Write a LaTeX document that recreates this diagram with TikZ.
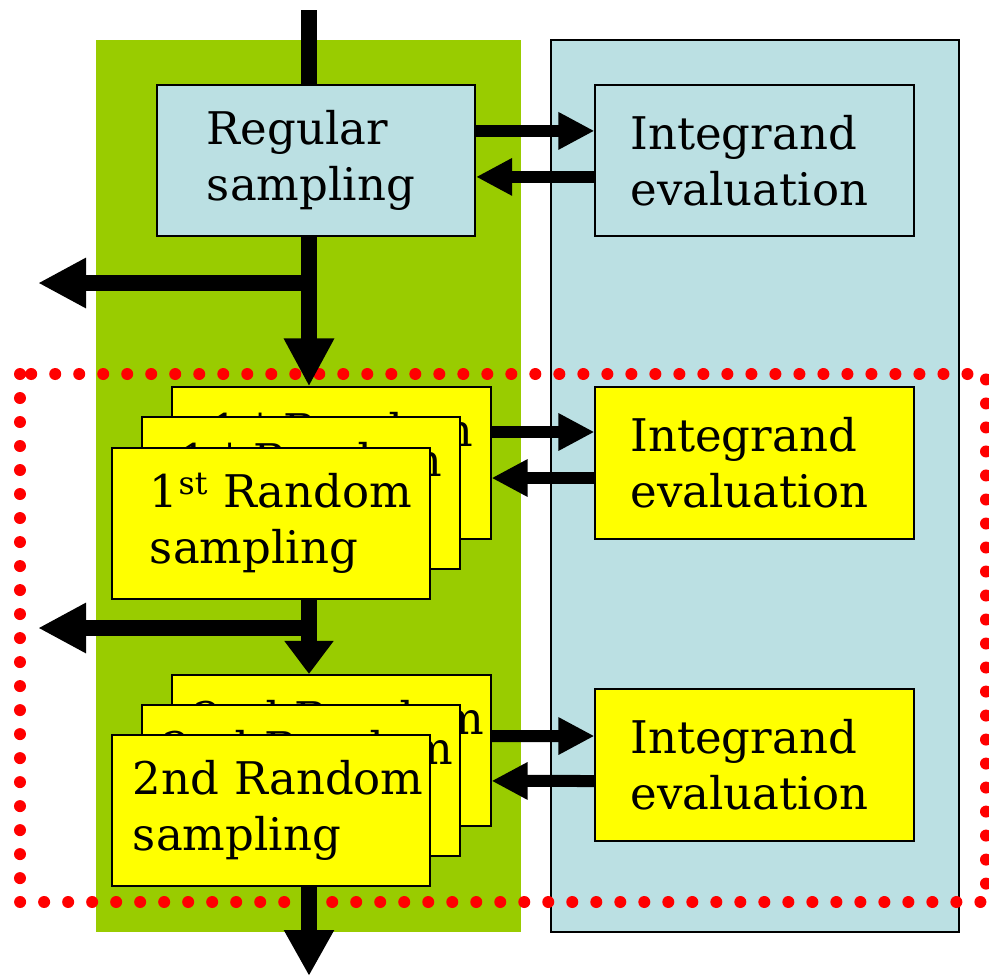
\documentclass[tikz,border=0pt]{standalone}
\usepackage{fontspec}
\setmainfont{DejaVu Serif}
\usepackage{tikz}
\usetikzlibrary{calc,arrows.meta,positioning}
\definecolor{LeafGreen}{RGB}{153, 204, 0}
\definecolor{PaleBlue}{RGB}{187, 224, 227}
\definecolor{BoxYellow}{RGB}{255, 255, 0}
\definecolor{DotRed}{RGB}{255, 0, 0}

\begin{document}
\begin{tikzpicture}[x=0.025cm, y=-0.025cm,
  font=\fontsize{32}{40}\selectfont,
  smp/.style={draw=black, line width=0.05cm, fill=PaleBlue,
              align=left, inner ysep=0pt, minimum width=7.95cm, minimum height=3.775cm},
  rnd/.style={smp, fill=BoxYellow},
  flow/.style={line width=0.4cm, -{Triangle[length=#1, width=1.175cm]}},
  flow/.default=1.2cm,
  link/.style={line width=0.3cm, -{Triangle[length=0.9cm, width=0.875cm]}},
  dotbox/.style={draw=DotRed, line width=0.3cm, line cap=round,
                 dash pattern=on 0pt off 0.6cm}]
  \useasboundingbox (0,0) rectangle (989,976);

  % the two columns and the loop frame
  \fill[LeafGreen] (96,40) rectangle (521,932);
  \draw[line width=0.05cm, fill=PaleBlue] (551,40) rectangle (959,932);
  \draw[dotbox] (20,374) rectangle (986,902);

  % sampling stages
  \node[smp, inner xsep=1.25cm, text width=5.45cm] (reg) at (316,160.5) {Regular\\sampling};
  \node[rnd, inner xsep=0.95cm, text width=6.05cm] (rc1) at (331.5,463) {\mbox{1\textsuperscript{st} Random}\\sampling};
  \node[rnd, inner xsep=0.95cm, text width=6.05cm] (rb1) at (301,493) {\mbox{1\textsuperscript{st} Random}\\sampling};
  \node[rnd, inner xsep=0.95cm, text width=6.05cm] (ra1) at (271,523.5) {\mbox{1\textsuperscript{st} Random}\\sampling};
  \node[rnd, inner xsep=0.525cm, text width=6.9cm] (rc2) at (331.5,750.5) {\mbox{2nd Random}\\sampling};
  \node[rnd, inner xsep=0.525cm, text width=6.9cm] (rb2) at (301,780.5) {\mbox{2nd Random}\\sampling};
  \node[rnd, inner xsep=0.525cm, text width=6.9cm] (ra2) at (271,810.5) {\mbox{2nd Random}\\sampling};

  % integrand evaluations
  \node[smp, inner xsep=0.875cm, text width=6.2cm] (ev1) at (754.5,160.5) {Integrand\\evaluation};
  \node[rnd, inner xsep=0.875cm, text width=6.2cm] (ev2) at (754.5,463) {Integrand\\evaluation};
  \node[rnd, inner xsep=0.875cm, text width=6.2cm] (ev3) at (754.5,765) {Integrand\\evaluation};

  % main flow down the left column
  \coordinate (top) at (309,10);
  \coordinate (bot) at (309,976);
  \coordinate (out1) at (38,283);
  \coordinate (out2) at (38,628);
  \draw[line width=0.4cm] (top) -- (reg.north -| top);
  \draw[flow] (reg.south -| top) -- (rc1.north -| top);
  \draw[flow] (out1 -| top) -- (out1);
  \draw[flow=0.825cm] (ra1.south -| top) -- (rc2.north -| top);
  \draw[flow] (out2 -| top) -- (out2);
  \draw[flow=1.15cm] (ra2.south -| top) -- (bot);

  % requests and results
  \draw[link] ([yshift=0.74cm]reg.east) -- ([yshift=0.74cm]ev1.west);
  \draw[link] ([yshift=-0.41cm]ev1.west) -- ([yshift=-0.41cm]reg.east);
  \draw[link] ([yshift=0.775cm]rc1.east) -- ([yshift=0.775cm]ev2.west);
  \draw[link] ([yshift=-0.375cm]ev2.west) -- ([yshift=-0.375cm]rc1.east);
  \draw[link] ([yshift=0.36cm]rc2.east) -- ([yshift=0.725cm]ev3.west);
  \draw[link] ([yshift=-0.4cm]ev3.west) -- ([yshift=-0.76cm]rc2.east);
\end{tikzpicture}
\end{document}
